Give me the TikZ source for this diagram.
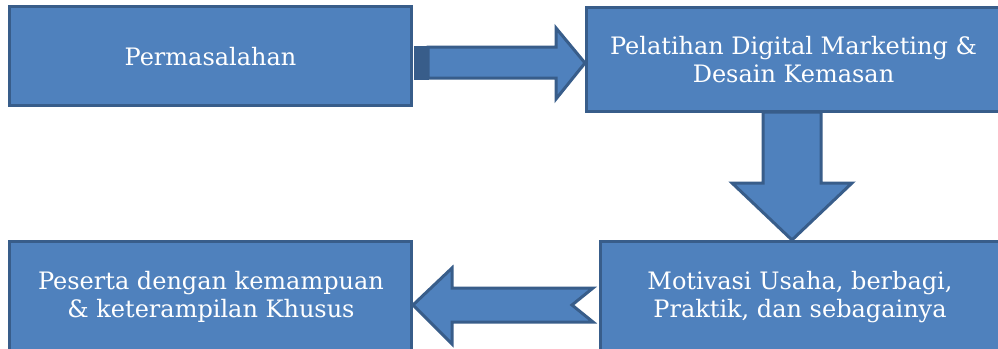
\documentclass[tikz,border=0pt]{standalone}
\usepackage{fontspec}
\setmainfont{DejaVu Serif}
\definecolor{boxfill}{HTML}{4F81BD}
\definecolor{boxline}{HTML}{385D8A}
\begin{document}
\begin{tikzpicture}[x=1pt,y=-1pt,
  blk/.style={draw=boxline,fill=boxfill,line width=3pt,line join=miter},
  boxnode/.style={blk,rectangle,inner sep=0pt},
  lbl/.style={text=white,font=\fontsize{24}{28}\selectfont,anchor=base,inner sep=0pt}]
\clip (0,0) rectangle (998,348);
\fill[white] (0,0) rectangle (998,348);
% boxes
\node[boxnode,minimum width=402pt,minimum height=99pt] (b1) at (210.5,56) {};
\node[boxnode,minimum width=416pt,minimum height=104pt] (b2) at (794.5,59.5) {};
\node[boxnode,minimum width=402pt,minimum height=111pt] (b3) at (801.5,297) {};
\node[boxnode,minimum width=402pt,minimum height=111pt] (b4) at (210.5,297) {};
% texts
\node[lbl] (t1) at (210.5,65) {Permasalahan};
\node[lbl] (t2a) at (793.5,54) {Pelatihan Digital Marketing \&};
\node[lbl] (t2b) at (793.5,82) {Desain Kemasan};
\node[lbl] (t3a) at (800,289) {Motivasi Usaha, berbagi,};
\node[lbl] (t3b) at (800,317) {Praktik, dan sebagainya};
\node[lbl] (t4a) at (211,289) {Peserta dengan kemampuan};
\node[lbl] (t4b) at (211,317) {\& keterampilan Khusus};
% right arrow b1 -> b2
\coordinate (rtip) at (b2.west |- 0,63);
\fill[boxline] (414,45.5) rectangle (429,79.5);
\draw[blk] (428,47) -- (556,47) -- (556,28) -- (rtip) -- (556,99) -- (556,78) -- (428,78) -- cycle;
% down arrow b2 -> b3
\coordinate (dtip) at (792,240);
\draw[blk] (763,112) -- (821,112) -- (821,183) -- (852,183) -- (dtip) -- (732,183) -- (763,183) -- cycle;
% left arrow b3 -> b4
\coordinate (ltip) at (b4.east |- 0,305);
\draw[blk] (593,288) -- (452,288) -- (452,268) -- (ltip) -- (452,344) -- (452,322) -- (593,322) -- (572,305) -- cycle;
\end{tikzpicture}
\end{document}
